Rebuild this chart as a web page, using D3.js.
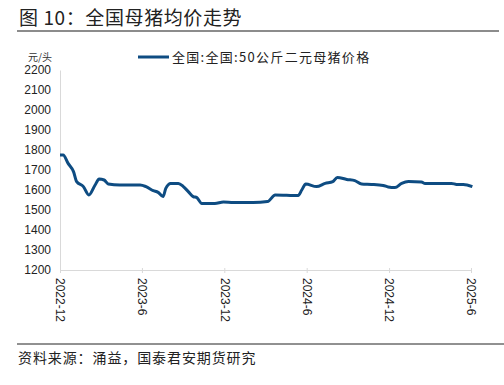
<!DOCTYPE html>
<html>
<head>
<meta charset="utf-8">
<script src="https://cdn.jsdelivr.net/npm/d3@7"></script>
<style>
  body { margin: 0; background: #fff; }
  text { font-family: "Liberation Sans", Arial, sans-serif; }
  .cn { font-family: "Noto Sans CJK SC", sans-serif; }
</style>
</head>
<body>
<div id="chart"></div>
<script>
// data
var dates = ["2022-12-01","2022-12-08","2022-12-19","2022-12-31","2023-01-07","2023-01-22","2023-02-03",
  "2023-02-17","2023-02-26","2023-03-09","2023-03-18","2023-04-13","2023-05-28","2023-06-10","2023-06-26",
  "2023-07-07","2023-07-18","2023-07-24","2023-08-04","2023-08-21","2023-09-01","2023-09-12","2023-09-23",
  "2023-10-01","2023-10-12","2023-11-10","2023-11-29","2023-12-21","2024-02-03","2024-03-06","2024-03-23",
  "2024-05-13","2024-05-21","2024-05-30","2024-06-23","2024-07-12","2024-07-29","2024-08-08","2024-08-29",
  "2024-09-16","2024-10-01","2024-10-23","2024-11-18","2024-11-29","2024-12-14","2024-12-29","2025-01-13",
  "2025-02-11","2025-02-19","2025-04-19","2025-04-30","2025-05-15","2025-06-04"]
var prices = [1775,1775,1733,1692,1642,1617,1575,
  1625,1655,1650,1630,1625,1625,1617,1597,
  1588,1567,1608,1633,1633,1617,1592,1567,
  1562,1533,1533,1540,1537,1537,1542,1575,
  1572,1600,1630,1617,1633,1642,1663,1653,
  1647,1630,1628,1623,1615,1612,1633,1642,
  1640,1633,1633,1628,1628,1617]
var tickDates = ["2022-12-01","2023-06-01","2023-12-01","2024-06-01","2024-12-01","2025-06-01"]
var tickLabels = ["2022-12","2023-6","2023-12","2024-6","2024-12","2025-6"]
var yTicks = [1200,1300,1400,1500,1600,1700,1800,1900,2000,2100,2200]
var seriesName = "全国:全国:50公斤二元母猪价格"

var W = 504, H = 385
var margin = {top: 70, right: 33, bottom: 115, left: 60},
  width = W - margin.left - margin.right,
  height = H - margin.top - margin.bottom

var parse = d3.timeParse("%Y-%m-%d")
var data = dates.map(function(d, i) {
  return {date: parse(d), value: prices[i]}
})

var root = d3.select("#chart").append("svg")
  .attr("width", W)
  .attr("height", H)

// title
root.append("text")
  .attr("class", "cn")
  .attr("x", 19).attr("y", 25)
  .attr("font-size", 19)
  .attr("letter-spacing", 0.6)
  .attr("fill", "#222")
  .text("图 10：全国母猪均价走势")
root.append("line")
  .attr("x1", 17).attr("x2", 499)
  .attr("y1", 31).attr("y2", 31)
  .attr("stroke", "#8c8c8c").attr("stroke-width", 2)

// footer
root.append("line")
  .attr("x1", 17).attr("x2", 504)
  .attr("y1", 344).attr("y2", 344)
  .attr("stroke", "#222").attr("stroke-width", 1)
root.append("text")
  .attr("class", "cn")
  .attr("x", 18).attr("y", 363)
  .attr("font-size", 14)
  .attr("letter-spacing", 0.9)
  .attr("fill", "#222")
  .text("资料来源：涌益，国泰君安期货研究")

var svg = root.append("g")
  .attr("transform", "translate(" + margin.left + "," + margin.top + ")")

var x = d3.scaleTime()
  .domain([parse(tickDates[0]), parse(tickDates[tickDates.length - 1])])
  .range([0, width])
var y = d3.scaleLinear()
  .domain([1200, 2200])
  .range([height, 0])

// y axis
var yAxis = svg.append("g")
  .call(d3.axisLeft(y).tickValues(yTicks).tickFormat(d3.format("d")).tickSize(0).tickPadding(9))
yAxis.select(".domain").attr("stroke", "#d9d9d9")
yAxis.selectAll("text").attr("font-size", 12).attr("fill", "#222")

// x axis
var xAxis = svg.append("g")
  .attr("transform", "translate(0," + height + ")")
  .call(d3.axisBottom(x)
    .tickValues(tickDates.map(parse))
    .tickFormat(function(d, i) { return tickLabels[i] })
    .tickSizeInner(4).tickSizeOuter(0))
xAxis.select(".domain").attr("stroke", "#d9d9d9")
xAxis.selectAll(".tick line").attr("stroke", "#d9d9d9").attr("y1", -2).attr("y2", 3)
xAxis.selectAll("text")
  .attr("font-size", 12).attr("fill", "#222")
  .attr("text-anchor", "start")
  .attr("dy", "0.35em")
  .attr("transform", "translate(0,6) rotate(90)")
  .attr("y", 0).attr("x", 2)

// unit label
svg.append("text")
  .attr("class", "cn")
  .attr("x", -32).attr("y", -9)
  .attr("font-size", 10)
  .attr("fill", "#333")
  .text("元/头")

// the line
svg.append("path")
  .datum(data)
  .attr("fill", "none")
  .attr("stroke", "#0e4c82")
  .attr("stroke-width", 3)
  .attr("stroke-linejoin", "round")
  .attr("d", d3.line()
    .curve(d3.curveMonotoneX)
    .x(function(d) { return x(d.date) })
    .y(function(d) { return y(d.value) }))

// legend
svg.append("line")
  .attr("x1", 78).attr("x2", 109)
  .attr("y1", -13).attr("y2", -13)
  .attr("stroke", "#0e4c82").attr("stroke-width", 3)
svg.append("text")
  .attr("class", "cn")
  .attr("x", 112).attr("y", -8)
  .attr("font-size", 13)
  .attr("letter-spacing", 1.3)
  .attr("fill", "#222")
  .text(seriesName)
</script>
</body>
</html>
